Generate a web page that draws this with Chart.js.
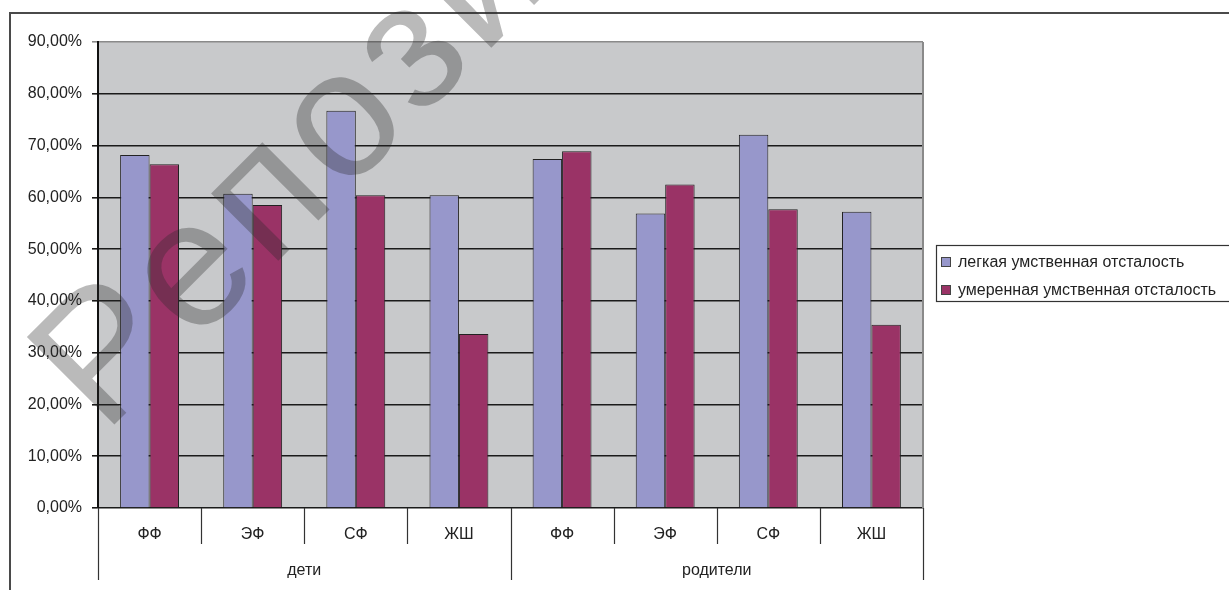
<!DOCTYPE html>
<html>
<head>
<meta charset="utf-8">
<script src="https://cdn.jsdelivr.net/npm/chart.js@4.4.1/dist/chart.umd.min.js"></script>
<style>
  html, body { margin: 0; padding: 0; background: #fff; }
  #wrap { width: 1229px; height: 590px; position: relative; }
</style>
</head>
<body>
<div id="wrap"><canvas id="c"></canvas></div>
<script>
// ---- data ----
const categories = ['ФФ', 'ЭФ', 'СФ', 'ЖШ', 'ФФ', 'ЭФ', 'СФ', 'ЖШ'];
const groups = ['дети', 'родители'];
const seriesNames = ['легкая умственная отсталость', 'умеренная умственная отсталость'];
const mildValues = [68.2, 60.7, 76.7, 60.4, 67.4, 56.9, 72.1, 57.2];
const moderateValues = [66.4, 58.5, 60.4, 33.6, 68.9, 62.5, 57.7, 35.4];
const yTicks = [0, 10, 20, 30, 40, 50, 60, 70, 80, 90];
const watermark = 'Репозиторий';

const FONT = '"Liberation Sans", Arial, sans-serif';
const TEXT = '#222222';

const decorPlugin = {
  id: 'decor',
  beforeDraw(chart) {
    const { ctx, chartArea: a } = chart;
    ctx.save();
    ctx.fillStyle = '#ffffff';
    ctx.fillRect(0, 0, chart.width, chart.height);
    ctx.fillStyle = '#c8c9cb';
    ctx.fillRect(a.left, a.top, a.right - a.left, a.bottom - a.top);
    ctx.restore();
  },
  afterDraw(chart) {
    const { ctx, chartArea: a } = chart;
    const xs = chart.scales.x;
    ctx.save();
    // plot area border right
    ctx.strokeStyle = '#8a8a8a';
    ctx.lineWidth = 2;
    ctx.beginPath();
    ctx.moveTo(a.right, a.top);
    ctx.lineTo(a.right, a.bottom);
    ctx.stroke();

    // multi-level category axis
    const n = categories.length;
    const half = (xs.getPixelForValue(1) - xs.getPixelForValue(0)) / 2;
    const perGroup = n / groups.length;
    ctx.strokeStyle = '#333333';
    ctx.lineWidth = 1.2;
    for (let k = 0; k <= n; k++) {
      const x = Math.round((k < n ? xs.getPixelForValue(k) - half : xs.getPixelForValue(n - 1) + half)) + 0.5;
      const outer = k % perGroup === 0;
      ctx.beginPath();
      ctx.moveTo(x, a.bottom);
      ctx.lineTo(x, a.bottom + (outer ? 72 : 36));
      ctx.stroke();
    }
    ctx.fillStyle = TEXT;
    ctx.font = '16px ' + FONT;
    ctx.textAlign = 'center';
    ctx.textBaseline = 'middle';
    categories.forEach((c, i) => {
      ctx.fillText(c, xs.getPixelForValue(i), a.bottom + 27);
    });
    groups.forEach((g, gi) => {
      const x0 = xs.getPixelForValue(gi * perGroup) - half;
      const x1 = xs.getPixelForValue(gi * perGroup + perGroup - 1) + half;
      ctx.fillText(g, (x0 + x1) / 2, a.bottom + 63);
    });

    // legend
    const lx = 936, ly = 245;
    ctx.strokeStyle = '#333333';
    ctx.lineWidth = 1.2;
    ctx.strokeRect(lx + 0.5, ly + 0.5, 400, 56);
    ctx.textAlign = 'left';
    chart.data.datasets.forEach((ds, i) => {
      const cy = ly + 17 + i * 28;
      ctx.fillStyle = ds.backgroundColor;
      ctx.fillRect(lx + 6, cy - 4, 8, 8);
      ctx.strokeStyle = '#444';
      ctx.lineWidth = 1;
      ctx.strokeRect(lx + 5.5, cy - 4.5, 9, 9);
      ctx.fillStyle = TEXT;
      ctx.fillText(ds.label, lx + 22, cy + 1);
    });

    // outer chart border
    ctx.strokeStyle = '#4a4a4a';
    ctx.lineWidth = 2;
    ctx.beginPath();
    ctx.moveTo(10, chart.height + 2);
    ctx.lineTo(10, 13);
    ctx.lineTo(chart.width + 2, 13);
    ctx.stroke();

    // watermark
    ctx.fillStyle = 'rgba(40, 40, 40, 0.32)';
    ctx.translate(104, 435);
    ctx.rotate(-Math.PI / 4);
    ctx.font = '180px ' + FONT;
    ctx.textAlign = 'left';
    ctx.textBaseline = 'alphabetic';
    let cx = 0;
    for (const ch of watermark) {
      ctx.fillText(ch, cx, 0);
      cx += ctx.measureText(ch).width + 7;
    }
    ctx.restore();
  }
};

new Chart(document.getElementById('c'), {
  type: 'bar',
  data: {
    labels: categories,
    datasets: [
      { label: seriesNames[0], data: mildValues, backgroundColor: '#9797cb', borderColor: '#222222', borderWidth: 1 },
      { label: seriesNames[1], data: moderateValues, backgroundColor: '#9a3366', borderColor: '#222222', borderWidth: 1 }
    ]
  },
  options: {
    responsive: true,
    maintainAspectRatio: false,
    animation: false,
    devicePixelRatio: 1,
    layout: { padding: { top: 42, right: 306, bottom: 82, left: 0 } },
    datasets: { bar: { categoryPercentage: 0.571, barPercentage: 1.0 } },
    plugins: { legend: { display: false }, tooltip: { enabled: false } },
    scales: {
      x: { display: false, offset: true },
      y: {
        min: yTicks[0],
        max: yTicks[yTicks.length - 1],
        afterBuildTicks(s) { s.ticks = yTicks.map(v => ({ value: v })); },
        afterFit(s) { s.width = 98; },
        border: { color: '#111111', width: 2 },
        grid: {
          color: c => (c.tick && c.tick.value === 90 ? '#8a8a8a' : '#1a1a1a'),
          lineWidth: 1.6,
          tickLength: 6
        },
        ticks: {
          color: TEXT,
          padding: 10,
          font: { family: FONT, size: 16 },
          callback: v => v.toFixed(2).replace('.', ',') + '%'
        }
      }
    }
  },
  plugins: [decorPlugin]
});
</script>
</body>
</html>
